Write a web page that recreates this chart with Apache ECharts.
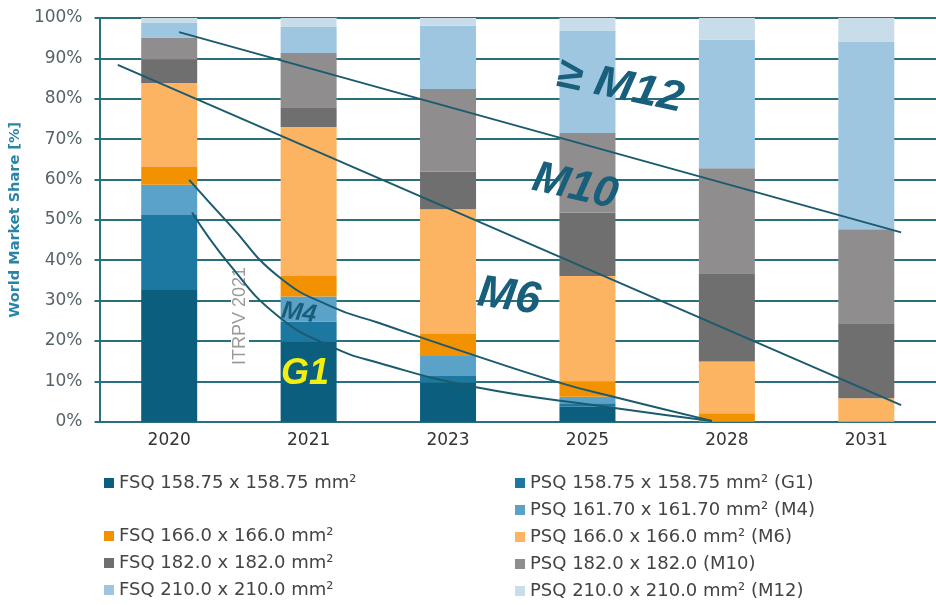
<!DOCTYPE html>
<html>
<head>
<meta charset="utf-8">
<script src="https://cdn.jsdelivr.net/npm/echarts@6/dist/echarts.min.js"></script>
<style>html,body{margin:0;padding:0;background:#fff}#c{width:936px;height:605px}</style>
</head>
<body>
<div id="c"></div>
<script>
// ---- data ----
var years = ['2020', '2021', '2023', '2025', '2028', '2031'];
var yTicks = [0, 10, 20, 30, 40, 50, 60, 70, 80, 90, 100];
var fsq158 = [32.6, 19.8, 9.7, 3.7, 0, 0];
var psqG1 = [18.6, 5.0, 1.6, 0.9, 0, 0];
var psqM4 = [7.5, 6.2, 5.0, 1.6, 0, 0];
var fsq166 = [4.4, 5.1, 5.4, 3.7, 2.1, 0];
var psqM6 = [20.8, 36.9, 30.9, 26.2, 12.8, 5.8];
var fsq182 = [5.8, 4.9, 9.4, 15.7, 21.9, 18.6];
var psqM10 = [5.5, 13.4, 20.4, 19.7, 26.0, 23.3];
var fsq210 = [3.7, 6.6, 15.7, 25.4, 31.8, 46.5];
var psqM12 = [1.3, 2.1, 1.9, 3.1, 5.4, 5.8];

// trend lines, x in category-index units (category i centred at i+0.5), y in %
var lineM12 = [[0.571, 96.5], [5.75, 46.9]];
var lineM10 = [[0.131, 88.4], [5.75, 4.1]];
var curveM6 = [[0.643, 59.9], [0.929, 49.0], [1.286, 35.9], [1.664, 28.5], [2.0, 24.5], [2.571, 17.8], [3.286, 9.8], [3.693, 6.1], [4.393, 0.2]];
var curveM4 = [[0.664, 51.8], [0.929, 39.1], [1.286, 26.0], [1.664, 18.6], [2.0, 14.6], [2.693, 8.6], [3.693, 3.4], [4.393, 0.2]];

var names = {
  fsq158: 'FSQ 158.75 x 158.75 mm²',
  psqG1: 'PSQ 158.75 x 158.75 mm² (G1)',
  psqM4: 'PSQ 161.70 x 161.70 mm² (M4)',
  fsq166: 'FSQ 166.0 x 166.0 mm²',
  psqM6: 'PSQ 166.0 x 166.0 mm² (M6)',
  fsq182: 'FSQ 182.0 x 182.0 mm²',
  psqM10: 'PSQ 182.0 x 182.0 (M10)',
  fsq210: 'FSQ 210.0 x 210.0 mm²',
  psqM12: 'PSQ 210.0 x 210.0 mm² (M12)'
};

var teal = '#2a6f7d';
var ink = '#175f7b';
var sans = '"DejaVu Sans", Verdana, sans-serif';
var arial = '"Liberation Sans", Arial, sans-serif';

function bar(name, data, color) {
  return { name: name, type: 'bar', stack: 'total', data: data, barWidth: 56,
    itemStyle: { color: color }, emphasis: { disabled: true } };
}
function line(data, smooth) {
  return { type: 'line', xAxisIndex: 1, yAxisIndex: 0, data: data, smooth: smooth, symbol: 'none',
    lineStyle: { color: '#1b5a6f', width: 2 }, z: 4, silent: true };
}

var chart = echarts.init(document.getElementById('c'));
var legendText = { fontFamily: sans, fontSize: 18, lineHeight: 20, color: '#444' };
function legend(left, top, data) {
  return { orient: 'vertical', left: left, top: top, padding: 0, itemWidth: 10, itemHeight: 10, itemGap: 7,
    icon: 'rect', textStyle: legendText, data: data };
}
chart.setOption({
  animation: false,
  textStyle: { fontFamily: sans },
  grid: { left: 99.5, top: 18, width: 840, height: 403.7 },
  xAxis: [
    { type: 'category', data: years,
      axisLine: { lineStyle: { color: teal, width: 2 } },
      axisTick: { show: false },
      axisLabel: { fontFamily: sans, fontSize: 17, color: '#333', margin: 10 } },
    { type: 'value', min: 0, max: 6, show: false }
  ],
  yAxis: {
    type: 'value', min: 0, max: 100, interval: 10,
    name: 'World Market Share [%]', nameLocation: 'middle', nameGap: 66,
    nameTextStyle: { fontFamily: sans, color: '#2a84a8', fontWeight: 'bold', fontSize: 14.5 },
    axisLine: { show: true, lineStyle: { color: teal, width: 2 } },
    axisTick: { show: true, length: 5, lineStyle: { color: teal, width: 2 } },
    axisLabel: { fontFamily: sans, fontSize: 17, color: '#56636a', margin: 17,
      formatter: function (v) { return yTicks.indexOf(v) >= 0 ? v + '%' : ''; } },
    splitLine: { lineStyle: { color: teal, width: 2 } }
  },
  legend: [
    legend(104, 473, [names.fsq158]),
    legend(104, 526, [names.fsq166, names.fsq182, names.fsq210]),
    legend(515, 473, [names.psqG1, names.psqM4, names.psqM6, names.psqM10, names.psqM12])
  ],
  series: [
    bar(names.fsq158, fsq158, '#0b5e7e'),
    bar(names.psqG1, psqG1, '#1c78a0'),
    bar(names.psqM4, psqM4, '#5aa2c8'),
    bar(names.fsq166, fsq166, '#f39200'),
    bar(names.psqM6, psqM6, '#fcb462'),
    bar(names.fsq182, fsq182, '#6f6f6f'),
    bar(names.psqM10, psqM10, '#8f8d8d'),
    bar(names.fsq210, fsq210, '#9ec6e1'),
    bar(names.psqM12, psqM12, '#c8dde9'),
    line(lineM12, false),
    line(lineM10, false),
    line(curveM6, true),
    line(curveM4, true)
  ],
  graphic: [
    { type: 'text', x: 620, y: 87, rotation: -12 * Math.PI / 180, scaleX: 1.08, z: 10,
      style: { text: '≥ M12', font: 'italic bold 43px ' + arial, fill: ink, align: 'center', verticalAlign: 'middle' } },
    { type: 'text', x: 575, y: 187, rotation: -13 * Math.PI / 180, z: 10,
      style: { text: 'M10', font: 'italic bold 44px ' + arial, fill: ink, align: 'center', verticalAlign: 'middle' } },
    { type: 'text', x: 509, y: 297, rotation: -8 * Math.PI / 180, z: 10,
      style: { text: 'M6', font: 'italic bold 45px ' + arial, fill: ink, align: 'center', verticalAlign: 'middle' } },
    { type: 'text', x: 299, y: 313, rotation: -8 * Math.PI / 180, z: 10,
      style: { text: 'M4', font: 'italic bold 25px ' + arial, fill: '#1a5d78', align: 'center', verticalAlign: 'middle' } },
    { type: 'text', x: 305, y: 374, z: 10,
      style: { text: 'G1', font: 'italic bold 36px ' + arial, fill: '#f2ee10', align: 'center', verticalAlign: 'middle' } },
    { type: 'text', x: 240, y: 316, rotation: Math.PI / 2, z: 3,
      style: { text: 'ITRPV 2021', font: '18px ' + arial, fill: '#9a9a9a', align: 'center', verticalAlign: 'middle',
        backgroundColor: '#fff', padding: [0, 2] } }
  ]
});
</script>
</body>
</html>
